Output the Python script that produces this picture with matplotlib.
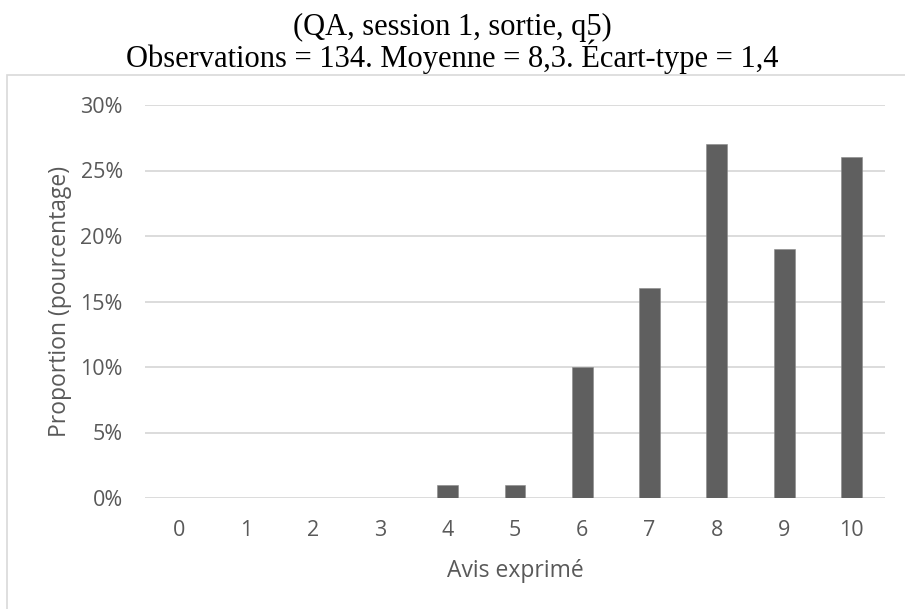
import matplotlib.pyplot as plt
from matplotlib.patches import Rectangle
from matplotlib.ticker import FuncFormatter

# --- Données ---
avis = [0, 1, 2, 3, 4, 5, 6, 7, 8, 9, 10]
proportion = [0, 0, 0, 0, 1, 1, 10, 16, 27, 19, 26]   # en %
titre_1 = "(QA, session 1, sortie, q5)"
titre_2 = "Observations = 134. Moyenne = 8,3. Écart-type = 1,4"

gris_texte = '#595959'
gris_grille = '#d9d9d9'

fig = plt.figure(figsize=(9.05, 6.09), dpi=100)

# cadre du graphique (comme Excel)
fig.patches.append(Rectangle((7 / 905, -0.05), 1.0, 1 - 75 / 609 + 0.05,
                             transform=fig.transFigure, fill=False,
                             edgecolor=gris_grille, linewidth=1.2))

fig.text(0.5, 1 - 35 / 609, titre_1, ha='center', va='baseline',
         family='Liberation Serif', fontsize=22, color='black')
fig.text(0.5, 1 - 67 / 609, titre_2, ha='center', va='baseline',
         family='Liberation Serif', fontsize=22, color='black')

ax = fig.add_axes([145 / 905, 1 - 498 / 609, (885 - 145) / 905, (498 - 105) / 609])
ax.bar(avis, proportion, width=0.31, color='#5f5f5f', edgecolor='#8a8a8a',
       linewidth=0.4, zorder=3)

ax.set_xlim(-0.5, 10.5)
ax.set_ylim(0, 30)
ax.set_yticks([0, 5, 10, 15, 20, 25, 30])
ax.yaxis.set_major_formatter(FuncFormatter(lambda v, p: f'{v:.0f}%'))
ax.set_xticks(avis)
ax.grid(axis='y', color=gris_grille, linewidth=1.3, zorder=0)
for s in ax.spines.values():
    s.set_visible(False)
ax.tick_params(length=0, colors=gris_texte, labelsize=15.5)
ax.tick_params(axis='x', pad=16)
ax.tick_params(axis='y', pad=16)
for lab in ax.get_xticklabels() + ax.get_yticklabels():
    lab.set_family('Open Sans')

ax.set_xlabel('Avis exprimé', family='Open Sans', fontsize=16.5, color=gris_texte, labelpad=13)
ax.set_ylabel('Proportion (pourcentage)', family='Open Sans', fontsize=16.5,
              color=gris_texte, labelpad=6)

plt.savefig('out.png', dpi=100)
